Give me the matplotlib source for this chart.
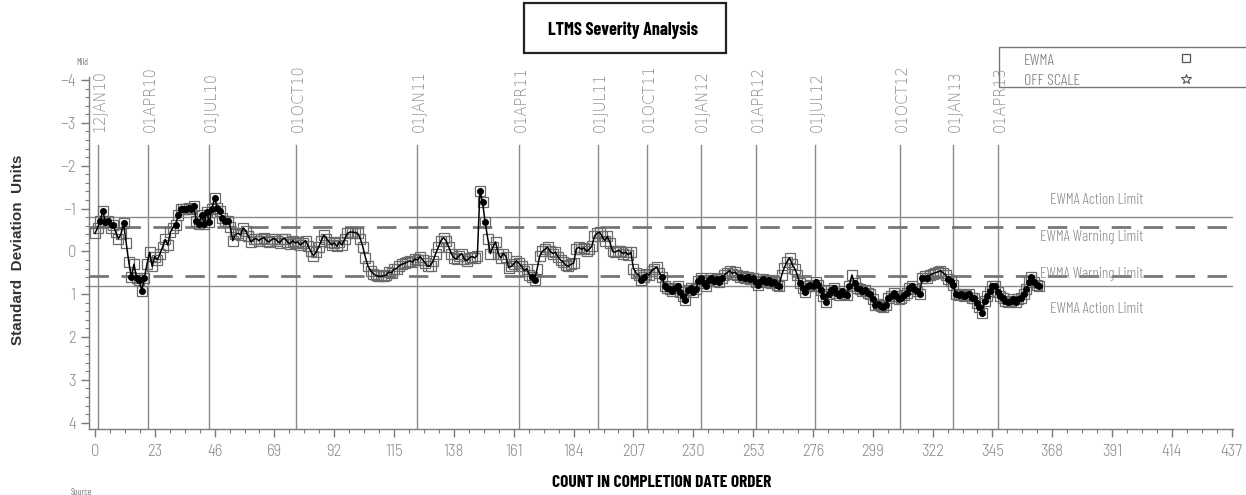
import matplotlib
matplotlib.use("Agg")
import matplotlib.pyplot as plt
from matplotlib.patches import Rectangle
from matplotlib.lines import Line2D
import numpy as np

# EWMA severity values in completion-date order (count 0 .. 363)
ewma = [
    -0.42, -0.55, -0.70, -0.95, -0.68, -0.72, -0.55, -0.62, -0.45, -0.30,
    -0.40, -0.66, -0.20, 0.25, 0.60, 0.30, 0.62, 0.68, 0.92, 0.62,
    0.30, 0.02, 0.35, 0.12, 0.20, 0.05, -0.10, -0.28, -0.15, -0.45,
    -0.55, -0.62, -0.85, -0.98, -1.00, -0.98, -1.02, -1.00, -1.05, -0.70,
    -0.65, -0.85, -0.65, -0.92, -0.68, -1.00, -1.25, -1.02, -0.95, -0.78,
    -0.70, -0.72, -0.58, -0.25, -0.40, -0.42, -0.38, -0.55, -0.48, -0.35,
    -0.22, -0.28, -0.30, -0.25, -0.30, -0.32, -0.25, -0.22, -0.28, -0.30,
    -0.25, -0.20, -0.28, -0.30, -0.22, -0.18, -0.25, -0.20, -0.22, -0.15,
    -0.20, -0.25, -0.12, 0.00, 0.10, 0.02, -0.10, -0.25, -0.38, -0.30,
    -0.22, -0.15, -0.20, -0.12, -0.22, -0.15, -0.28, -0.42, -0.45, -0.45,
    -0.44, -0.42, -0.30, -0.10, 0.15, 0.35, 0.45, 0.52, 0.56, 0.58,
    0.58, 0.57, 0.55, 0.48, 0.50, 0.42, 0.40, 0.33, 0.30, 0.28,
    0.25, 0.22, 0.25, 0.18, 0.20, 0.12, 0.20, 0.28, 0.35, 0.33,
    0.22, 0.05, -0.10, -0.25, -0.32, -0.25, -0.10, 0.05, 0.15, 0.18,
    0.10, 0.05, 0.18, 0.22, 0.15, 0.12, 0.15, 0.10, -1.42, -1.15,
    -0.68, -0.30, 0.05, -0.10, -0.22, 0.05, 0.15, 0.05, 0.12, 0.38,
    0.35, 0.30, 0.22, 0.28, 0.35, 0.45, 0.40, 0.55, 0.60, 0.66,
    0.40, 0.10, 0.00, -0.05, -0.10, 0.00, 0.05, 0.02, 0.12, 0.20,
    0.25, 0.32, 0.35, 0.30, 0.28, -0.05, -0.10, -0.05, -0.08, 0.00,
    -0.05, -0.12, -0.35, -0.42, -0.45, -0.35, -0.25, -0.35, -0.20, 0.00,
    0.02, -0.02, 0.00, 0.05, 0.02, 0.08, 0.02, 0.40, 0.50, 0.55,
    0.66, 0.60, 0.52, 0.55, 0.45, 0.40, 0.37, 0.50, 0.60, 0.80,
    0.85, 0.88, 0.92, 0.85, 0.80, 0.95, 1.05, 1.14, 0.90, 0.85,
    0.95, 0.88, 0.70, 0.62, 0.75, 0.82, 0.68, 0.62, 0.70, 0.65,
    0.72, 0.62, 0.55, 0.50, 0.45, 0.52, 0.48, 0.55, 0.60, 0.58,
    0.62, 0.60, 0.65, 0.62, 0.72, 0.78, 0.70, 0.65, 0.72, 0.68,
    0.75, 0.72, 0.78, 0.80, 0.55, 0.38, 0.25, 0.15, 0.30, 0.40,
    0.55, 0.75, 0.85, 0.95, 0.82, 0.78, 0.80, 0.72, 0.78, 0.90,
    1.05, 1.18, 1.00, 0.90, 0.85, 0.98, 1.02, 0.92, 1.00, 1.02,
    0.80, 0.55, 0.75, 0.85, 0.88, 0.92, 0.90, 0.98, 1.00, 1.12,
    1.25, 1.22, 1.28, 1.30, 1.25, 1.10, 1.05, 0.98, 1.05, 1.12,
    1.10, 1.02, 0.98, 0.85, 0.82, 0.88, 0.92, 1.00, 0.62, 0.58,
    0.62, 0.55, 0.52, 0.50, 0.48, 0.45, 0.50, 0.55, 0.65, 0.70,
    0.78, 1.00, 1.02, 1.00, 1.05, 1.02, 1.00, 1.08, 1.10, 1.20,
    1.30, 1.45, 1.15, 1.05, 0.92, 0.82, 0.80, 0.95, 1.05, 1.10,
    1.15, 1.18, 1.15, 1.12, 1.18, 1.12, 1.10, 1.00, 0.88, 0.72,
    0.60, 0.72, 0.78, 0.82,
]
count = list(range(len(ewma)))

# Calendar reference markers (position in count order)
date_labels = ["12JAN10", "01APR10", "01JUL10", "01OCT10", "01JAN11", "01APR11",
               "01JUL11", "01OCT11", "01JAN12", "01APR12", "01JUL12", "01OCT12",
               "01JAN13", "01APR13"]
date_pos = [1.0, 20.4, 43.8, 77.3, 123.8, 163.1, 193.4, 212.1, 232.8, 254.0,
            276.7, 309.6, 330.0, 347.2]

# Control limits
action_limit = 0.80
warning_limit = 0.58

x_ticks = [0, 23, 46, 69, 92, 115, 138, 161, 184, 207, 230, 253, 276, 299,
           322, 345, 368, 391, 414, 437]
y_ticks = [-4, -3, -2, -1, 0, 1, 2, 3, 4]

GREY = "#7a7a7a"
LIGHT = "#8c8c8c"
NARROW = ["Liberation Sans Narrow", "Barlow Condensed", "Archivo Narrow", "DejaVu Sans"]
SEMI = ["Barlow Semi Condensed", "Liberation Sans Narrow", "DejaVu Sans"]
PLAIN = ["DejaVu Sans"]

fig = plt.figure(figsize=(12.46, 4.95), dpi=100)
ax = fig.add_axes([0.0714, 0.1333, 0.9182, 0.7111])
ax.set_xlim(-2.3, 437.5)
ax.set_ylim(4.147, -4.07)

# Limit lines
x_end = 437.5
ax.plot([-2.3, x_end], [-action_limit, -action_limit], color="#8a8a8a", lw=1.0, zorder=2)
ax.plot([-2.3, x_end], [action_limit, action_limit], color="#8a8a8a", lw=1.0, zorder=2)
ax.plot([-2.3, x_end], [-warning_limit, -warning_limit], color="#777777", lw=2.0,
        dashes=(7, 4.5), zorder=2)
ax.plot([-2.3, x_end], [warning_limit, warning_limit], color="#777777", lw=2.0,
        dashes=(7, 4.5), zorder=2)

# Date reference lines with rotated labels
for lbl, xp in zip(date_labels, date_pos):
    ax.plot([xp, xp], [4.147, -2.48], color="#8a8a8a", lw=1.0, zorder=1)
    ax.text(xp + 0.8, -2.78, lbl, rotation=90, ha="center", va="bottom",
            color=LIGHT, fontsize=10.5, family=PLAIN, fontweight="light", clip_on=False)

# EWMA series
ax.plot(count, ewma, color="black", lw=1.1, zorder=4)
ax.plot(count, ewma, ls="none", marker="s", ms=6.5, mfc="none", mec="#6a6a6a",
        mew=0.9, zorder=3)
out_x = [c for c, v in zip(count, ewma) if abs(v) > warning_limit]
out_y = [v for v in ewma if abs(v) > warning_limit]
ax.plot(out_x, out_y, ls="none", marker="o", ms=4, color="black", zorder=5)

# Limit annotations
lim_kw = dict(ha="center", va="center", color=LIGHT, fontsize=11, family=NARROW,
              fontweight=300)
ax.text(385, -1.2, "EWMA Action Limit", **lim_kw)
ax.text(383, -0.33, "EWMA Warning Limit", **lim_kw)
ax.text(383, 0.52, "EWMA Warning Limit", **lim_kw)
ax.text(385, 1.35, "EWMA Action Limit", **lim_kw)

# Axes styling
for s in ["top", "right"]:
    ax.spines[s].set_visible(False)
for s in ["left", "bottom"]:
    ax.spines[s].set_color(GREY)
    ax.spines[s].set_linewidth(1.0)
ax.set_xticks(x_ticks)
ax.set_yticks(y_ticks)
ax.set_xticks(np.arange(0, 438, 5.75), minor=True)
ax.set_yticks(np.arange(-4, 4.01, 0.2), minor=True)
ax.tick_params(axis="both", which="major", direction="out", length=6, width=1,
               color=GREY, labelcolor=LIGHT, labelsize=12)
ax.tick_params(axis="both", which="minor", direction="out", length=3, width=0.8,
               color=GREY)
ax.tick_params(axis="x", pad=5)
for t in ax.get_xticklabels() + ax.get_yticklabels():
    t.set_family(SEMI)
    t.set_fontweight(300)

fig.text(0.0145, 0.495, "Standard  Deviation  Units", rotation=90, ha="center",
         va="center", fontsize=11, fontweight="bold", color="#333333",
         family=["Liberation Sans", "DejaVu Sans"])
fig.text(0.531, 0.026, "COUNT IN COMPLETION DATE ORDER", ha="center", va="center",
         fontsize=12.5, fontweight="bold", color="black", family=NARROW)
fig.text(0.061, 0.873, "Mild", ha="left", va="center", fontsize=6.5, color=GREY,
         family=NARROW)
fig.text(0.057, 0.005, "Source", ha="left", va="center", fontsize=6.5, color=GREY,
         family=NARROW)

# Title box
W, H = 1246.0, 495.0
fig.patches.append(Rectangle((524 / W, 1 - 53 / H), 202 / W, 50 / H, transform=fig.transFigure,
                             fill=False, ec="#222222", lw=1.6))
fig.text(623 / W, 1 - 30 / H, "LTMS Severity Analysis", ha="center", va="center",
         fontsize=13, fontweight="bold", color="black", family=NARROW)

# Legend box (runs off the right edge)
fig.patches.append(Rectangle((999 / W, 1 - 87 / H), 260 / W, 40 / H, transform=fig.transFigure,
                             fill=False, ec="#777777", lw=1.0, clip_on=False))
leg_kw = dict(ha="left", va="center", fontsize=11.5, color=GREY, family=NARROW,
              fontweight=300)
fig.text(1024 / W, 1 - 61 / H, "EWMA", **leg_kw)
fig.text(1024 / W, 1 - 81 / H, "OFF SCALE", **leg_kw)
fig.lines.append(Line2D([1186 / W], [1 - 58 / H], transform=fig.transFigure, marker="s",
                        ms=6, mfc="none", mec="#555555", mew=0.9, ls="none"))
fig.lines.append(Line2D([1186 / W], [1 - 79 / H], transform=fig.transFigure, marker="*",
                        ms=7, mfc="none", mec="#555555", mew=0.8, ls="none"))

fig.savefig("out.png", dpi=100)
